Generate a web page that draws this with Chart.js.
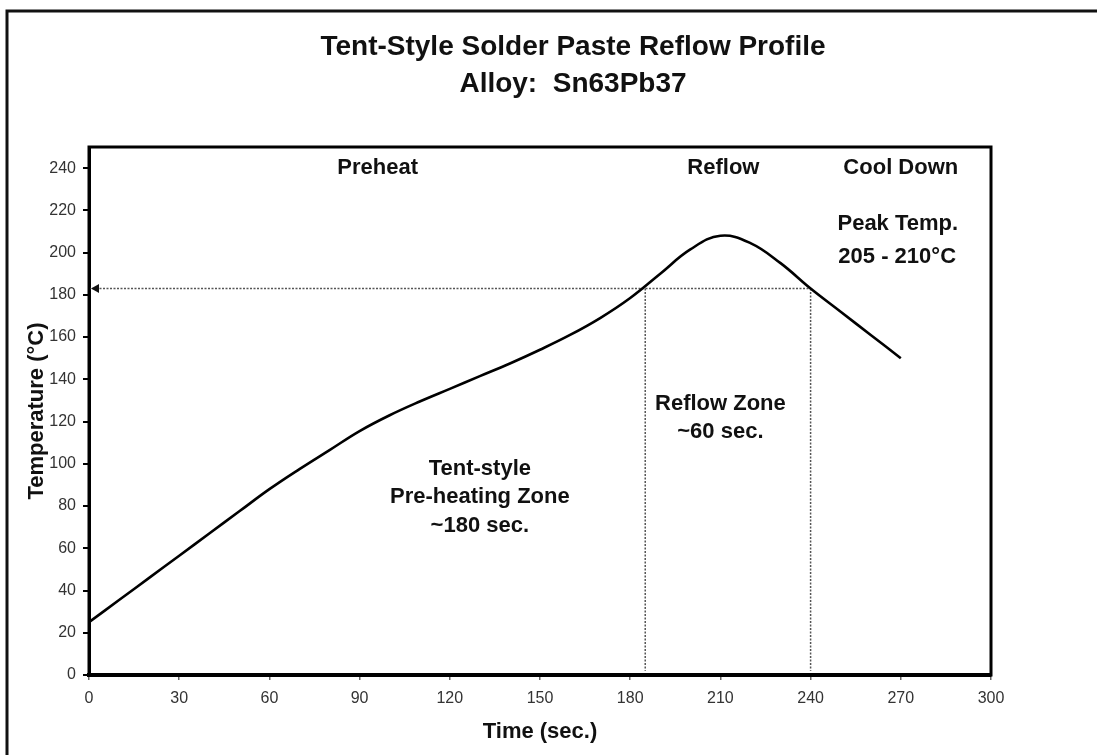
<!DOCTYPE html>
<html>
<head>
<meta charset="utf-8">
<script src="https://cdn.jsdelivr.net/npm/chart.js@4/dist/chart.umd.min.js"></script>
<style>
  html, body { margin: 0; padding: 0; background: #fff; }
  #wrap { width: 1097px; height: 755px; position: relative; }
</style>
</head>
<body>
<div id="wrap"><canvas id="c" width="1097" height="755"></canvas></div>
<script>
// ---- Data ----
const times = [0, 10, 20, 30, 40, 50, 60, 70, 80, 90, 100, 110, 120, 130, 140, 150, 160, 170, 180, 190, 200, 210, 220, 230, 240, 250, 260, 270];
const temps = [25, 35.5, 46, 56.5, 67, 77.5, 88, 97.5, 106.5, 115.5, 123, 129.5, 135.5, 141.5, 147.5, 154, 161, 169, 178.5, 190, 201.5, 208, 204.5, 195, 183, 172, 161, 150];
const meltTemp = 183;          // liquidus line (°C)
const zoneTimes = [185, 240];  // reflow zone boundaries (sec.)
const zoneBottom = 2;
const xTicks = [0, 30, 60, 90, 120, 150, 180, 210, 240, 270, 300];
const yTicks = [0, 20, 40, 60, 80, 100, 120, 140, 160, 180, 200, 220, 240];

const titleLines = ['Tent-Style Solder Paste Reflow Profile', 'Alloy:  Sn63Pb37'];
const noteTexts = ['Preheat', 'Reflow', 'Cool Down', 'Peak Temp.', '205 - 210°C',
                   'Reflow Zone', '~60 sec.', 'Tent-style', 'Pre-heating Zone', '~180 sec.'];
const noteTimes = [96, 211, 270, 269, 268.8, 210, 210, 130, 130, 130];
const noteTemps = [237, 237, 237, 210.6, 195.3, 125.3, 112.3, 94.8, 81.4, 67.9];

// ---- Build datasets ----
const profile = times.map((t, i) => ({ x: t, y: temps[i] }));
const dotted = { borderColor: '#555', borderWidth: 1.5, borderDash: [2, 1.5], pointRadius: 0, fill: false, tension: 0 };

const FONT = '"Liberation Sans", Arial, Helvetica, sans-serif';

const decor = {
  id: 'decor',
  afterDatasetsDraw(chart) {
    const ctx = chart.ctx;
    const xs = chart.scales.x, ys = chart.scales.y;
    const x0 = xs.getPixelForValue(0), y0 = ys.getPixelForValue(meltTemp);
    ctx.save();
    ctx.fillStyle = '#111';
    ctx.beginPath();
    ctx.moveTo(x0 + 2, y0);
    ctx.lineTo(x0 + 10, y0 - 4.5);
    ctx.lineTo(x0 + 10, y0 + 4.5);
    ctx.closePath();
    ctx.fill();
    ctx.restore();
  },
  afterDraw(chart) {
    const ctx = chart.ctx;
    const a = chart.chartArea;
    const xs = chart.scales.x, ys = chart.scales.y;
    ctx.save();
    ctx.strokeStyle = '#000';
    ctx.lineWidth = 3;
    ctx.strokeRect(a.left, a.top, a.right - a.left, a.bottom - a.top);
    ctx.strokeStyle = '#111';
    ctx.lineWidth = 3;
    ctx.beginPath();
    ctx.moveTo(7, chart.height);
    ctx.lineTo(7, 11);
    ctx.lineTo(chart.width, 11);
    ctx.stroke();
    ctx.fillStyle = '#111';
    ctx.textAlign = 'center';
    ctx.textBaseline = 'alphabetic';
    ctx.font = 'bold 28px ' + FONT;
    ctx.fillText(titleLines[0], 573, 55);
    ctx.fillText(titleLines[1], 573, 92);
    ctx.font = 'bold 22px ' + FONT;
    noteTexts.forEach((txt, i) => {
      ctx.fillText(txt, xs.getPixelForValue(noteTimes[i]), ys.getPixelForValue(noteTemps[i]));
    });
    ctx.restore();
  }
};

new Chart(document.getElementById('c'), {
  type: 'line',
  data: {
    datasets: [
      { data: profile, borderColor: '#000', borderWidth: 2.6, pointRadius: 0, fill: false, tension: 0.4 },
      Object.assign({ data: [{ x: 0, y: meltTemp }, { x: zoneTimes[1], y: meltTemp }] }, dotted),
      Object.assign({ data: [{ x: zoneTimes[0], y: meltTemp }, { x: zoneTimes[0], y: zoneBottom }] }, dotted),
      Object.assign({ data: [{ x: zoneTimes[1], y: meltTemp }, { x: zoneTimes[1], y: zoneBottom }] }, dotted)
    ]
  },
  options: {
    responsive: false,
    animation: false,
    devicePixelRatio: 1,
    layout: { padding: { top: 147, right: 106, bottom: 0, left: 0 } },
    plugins: { legend: { display: false }, title: { display: false }, tooltip: { enabled: false } },
    scales: {
      x: {
        type: 'linear', min: 0, max: 300,
        afterBuildTicks(s) { s.ticks = xTicks.map(v => ({ value: v })); },
        afterFit(s) { s.height = 80; },
        grid: { drawOnChartArea: false, drawTicks: true, tickLength: 5, color: '#666', lineWidth: 1.5 },
        border: { display: true, color: '#000', width: 4 },
        ticks: { color: '#333', padding: 9, font: { family: FONT, size: 16 }, maxRotation: 0, autoSkip: false },
        title: { display: true, text: 'Time (sec.)', color: '#111',
                 font: { family: FONT, size: 22, weight: 'bold' }, padding: { top: 0, bottom: 10 } }
      },
      y: {
        type: 'linear', min: 0, max: 250,
        afterBuildTicks(s) { s.ticks = yTicks.map(v => ({ value: v })); },
        afterFit(s) { s.width = 89; },
        grid: { drawOnChartArea: false, drawTicks: true, tickLength: 6, color: '#000', lineWidth: 2 },
        border: { display: true, color: '#000', width: 3 },
        ticks: { color: '#333', padding: 7, font: { family: FONT, size: 16 }, autoSkip: false },
        title: { display: true, text: 'Temperature (°C)', color: '#111',
                 font: { family: FONT, size: 22, weight: 'bold' }, padding: { top: 24, bottom: 0 } }
      }
    }
  },
  plugins: [decor]
});
</script>
</body>
</html>
